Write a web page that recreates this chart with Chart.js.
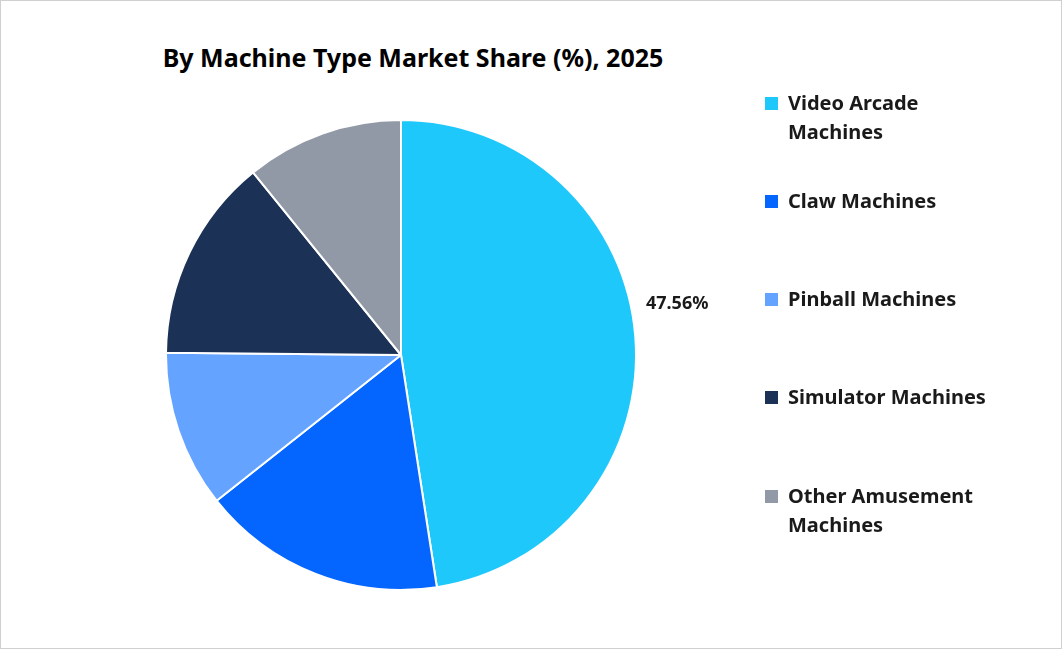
<!DOCTYPE html>
<html lang="en">
  <head>
    <meta charset="UTF-8" />
    <title>By Machine Type Market Share</title>
    <style>
      body { margin: 0; background: #fff; font-family: "Noto Sans", sans-serif; }
      #frame { position: absolute; left: 0; top: 0; width: 1060px; height: 647px; border: 1px solid #d0d0d0; }
      #title { position: absolute; left: 0; width: 826px; top: 40px; text-align: center; font-weight: bold; font-size: 25px; color: #000; }
      #wrap { position: absolute; left: 165px; top: 119px; width: 700px; height: 472px; }
      #legend { position: absolute; left: 765px; top: 0; }
      .item { position: absolute; display: flex; align-items: flex-start; font-weight: bold; font-size: 20px; line-height: 29px; color: #1a1a1a; white-space: nowrap; }
      .box { width: 13px; height: 13px; margin: 9px 10px 0 0; flex: none; }
    </style>
  </head>
  <body>
    <div id="frame"></div>
    <div id="title">By Machine Type Market Share (%), 2025</div>
    <div id="wrap"><canvas id="myChart"></canvas></div>
    <div id="legend"></div>
    <script src="https://cdn.jsdelivr.net/npm/chart.js"></script>
    <script>
      const categories = [
        "Video Arcade Machines",
        "Claw Machines",
        "Pinball Machines",
        "Simulator Machines",
        "Other Amusement Machines",
      ];
      const legendLines = [
        ["Video Arcade", "Machines"],
        ["Claw Machines"],
        ["Pinball Machines"],
        ["Simulator Machines"],
        ["Other Amusement", "Machines"],
      ];
      const shares = [47.56, 16.8, 10.8, 14.0, 10.84];
      const colors = ["#1fc8fb", "#0566ff", "#64a3ff", "#1c3156", "#9299a6"];
      const legendTops = [88, 186, 284, 382, 481];

      const legend = document.getElementById("legend");
      legendLines.forEach((lines, i) => {
        const el = document.createElement("div");
        el.className = "item";
        el.style.top = legendTops[i] + "px";
        el.innerHTML = `<div class="box" style="background:${colors[i]}"></div><div>${lines.join("<br>")}</div>`;
        legend.appendChild(el);
      });

      // label only the big slice, outside the pie
      const outsideLabel = {
        id: "outsideLabel",
        afterDatasetsDraw: (chart) => {
          const ctx = chart.ctx;
          const arc = chart.getDatasetMeta(0).data[0];
          const mid = (arc.startAngle + arc.endAngle) / 2;
          const r = arc.outerRadius + 42;
          ctx.save();
          ctx.font = "bold 18px 'Noto Sans'";
          ctx.fillStyle = "#1a1a1a";
          ctx.textAlign = "center";
          ctx.textBaseline = "middle";
          ctx.fillText(
            shares[0].toFixed(2) + "%",
            arc.x + r * Math.cos(mid),
            arc.y + r * Math.sin(mid) - 30
          );
          ctx.restore();
        },
      };

      new Chart(document.getElementById("myChart"), {
        type: "pie",
        plugins: [outsideLabel],
        data: {
          labels: categories,
          datasets: [
            {
              data: shares,
              backgroundColor: colors,
              borderColor: "#fff",
              borderWidth: 2,
            },
          ],
        },
        options: {
          responsive: true,
          maintainAspectRatio: false,
          animation: { duration: 0 },
          layout: { padding: { left: 0, right: 228, top: 0, bottom: 0 } },
          plugins: {
            legend: { display: false },
            tooltip: { enabled: false },
          },
        },
      });
    </script>
  </body>
</html>
